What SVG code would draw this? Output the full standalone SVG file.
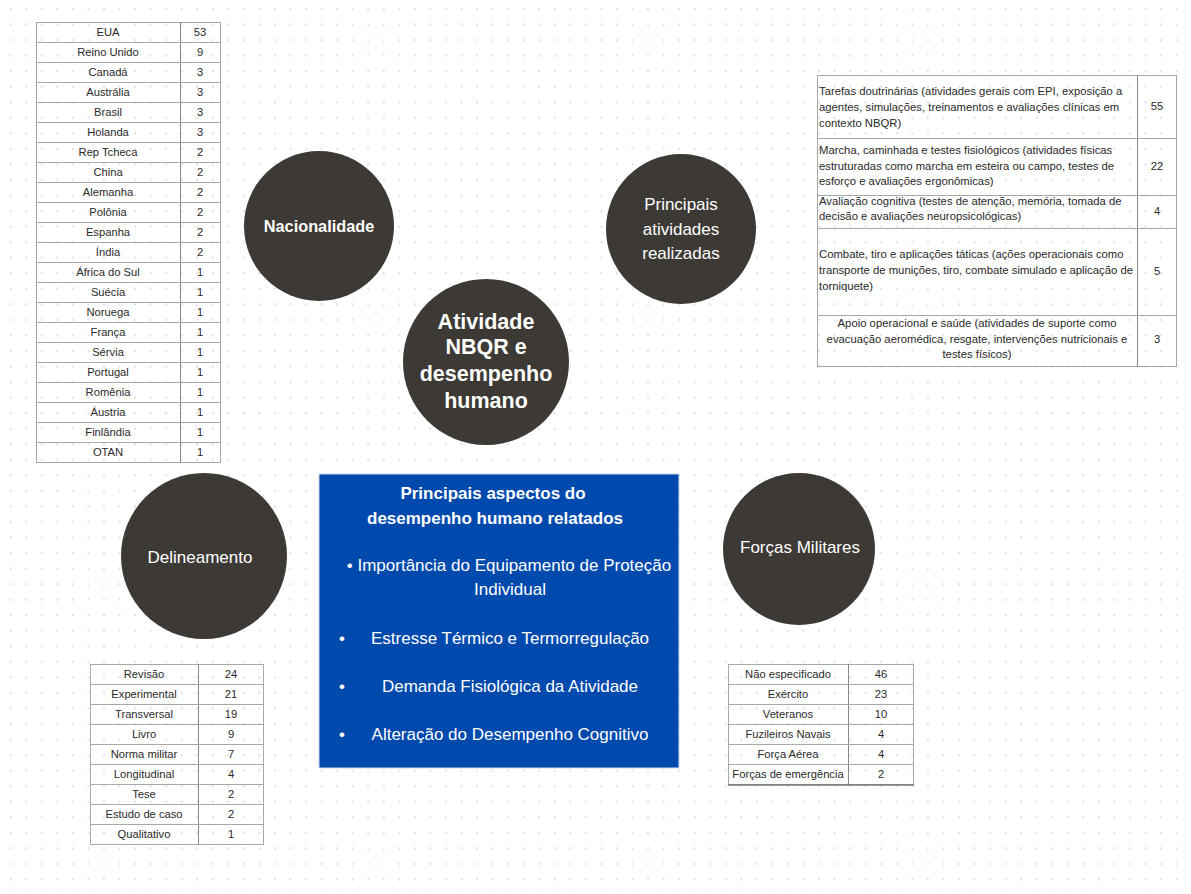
<svg xmlns="http://www.w3.org/2000/svg" width="1191" height="894" viewBox="0 0 1191 894">
<defs>
<pattern id="dots" x="0" y="0" width="15.545" height="15.545" patternUnits="userSpaceOnUse">
<rect x="9.7" y="8" width="2" height="2" fill="#dedee4"/>
</pattern>
</defs>
<style>
.bg{fill:#fff}
.circ{fill:#3d3935}
.ct{font-family:"Liberation Sans",Arial,sans-serif;fill:#fff;text-anchor:middle}
.tl{stroke:#a8a8a8;stroke-width:1;fill:none}
.tv{stroke:#8a8a8a;stroke-width:1}
.tt{font-family:"Liberation Sans",Arial,sans-serif;font-size:11.2px;fill:#2a2a2a;text-anchor:middle}
.rt{font-family:"Liberation Sans",Arial,sans-serif;font-size:11.3px;fill:#2a2a2a}
.bt{font-family:"Liberation Sans",Arial,sans-serif;fill:#fff;font-size:17px;text-anchor:middle}
</style>
<rect class="bg" width="1191" height="894"/>
<rect width="1191" height="894" fill="url(#dots)"/>
<g id="connectors"/>

<g id="tabela-nacionalidade">
<rect class="tl" x="36.5" y="22.5" width="184" height="440"/>
<line class="tv" x1="180.5" y1="22" x2="180.5" y2="463"/>
<g class="tl">
<line x1="36" y1="42.5" x2="220" y2="42.5"/><line x1="36" y1="62.5" x2="220" y2="62.5"/><line x1="36" y1="82.5" x2="220" y2="82.5"/><line x1="36" y1="102.5" x2="220" y2="102.5"/><line x1="36" y1="122.5" x2="220" y2="122.5"/><line x1="36" y1="142.5" x2="220" y2="142.5"/><line x1="36" y1="162.5" x2="220" y2="162.5"/><line x1="36" y1="182.5" x2="220" y2="182.5"/><line x1="36" y1="202.5" x2="220" y2="202.5"/><line x1="36" y1="222.5" x2="220" y2="222.5"/><line x1="36" y1="242.5" x2="220" y2="242.5"/><line x1="36" y1="262.5" x2="220" y2="262.5"/><line x1="36" y1="282.5" x2="220" y2="282.5"/><line x1="36" y1="302.5" x2="220" y2="302.5"/><line x1="36" y1="322.5" x2="220" y2="322.5"/><line x1="36" y1="342.5" x2="220" y2="342.5"/><line x1="36" y1="362.5" x2="220" y2="362.5"/><line x1="36" y1="382.5" x2="220" y2="382.5"/><line x1="36" y1="402.5" x2="220" y2="402.5"/><line x1="36" y1="422.5" x2="220" y2="422.5"/><line x1="36" y1="442.5" x2="220" y2="442.5"/>
</g>
<g class="tt">
<text x="108" y="36">EUA</text><text x="200" y="36">53</text>
<text x="108" y="56">Reino Unido</text><text x="200" y="56">9</text>
<text x="108" y="76">Canadá</text><text x="200" y="76">3</text>
<text x="108" y="96">Austrália</text><text x="200" y="96">3</text>
<text x="108" y="116">Brasil</text><text x="200" y="116">3</text>
<text x="108" y="136">Holanda</text><text x="200" y="136">3</text>
<text x="108" y="156">Rep Tcheca</text><text x="200" y="156">2</text>
<text x="108" y="176">China</text><text x="200" y="176">2</text>
<text x="108" y="196">Alemanha</text><text x="200" y="196">2</text>
<text x="108" y="216">Polônia</text><text x="200" y="216">2</text>
<text x="108" y="236">Espanha</text><text x="200" y="236">2</text>
<text x="108" y="256">Índia</text><text x="200" y="256">2</text>
<text x="108" y="276">África do Sul</text><text x="200" y="276">1</text>
<text x="108" y="296">Suécia</text><text x="200" y="296">1</text>
<text x="108" y="316">Noruega</text><text x="200" y="316">1</text>
<text x="108" y="336">França</text><text x="200" y="336">1</text>
<text x="108" y="356">Sérvia</text><text x="200" y="356">1</text>
<text x="108" y="376">Portugal</text><text x="200" y="376">1</text>
<text x="108" y="396">Romênia</text><text x="200" y="396">1</text>
<text x="108" y="416">Áustria</text><text x="200" y="416">1</text>
<text x="108" y="436">Finlândia</text><text x="200" y="436">1</text>
<text x="108" y="456">OTAN</text><text x="200" y="456">1</text>
</g>
</g>

<g id="tabela-atividades">
<rect class="tl" x="817.5" y="75.5" width="359" height="291"/>
<line class="tv" x1="1137.5" y1="75" x2="1137.5" y2="367"/>
<g class="tl">
<line x1="817" y1="138.5" x2="1177" y2="138.5"/><line x1="817" y1="195.5" x2="1177" y2="195.5"/><line x1="817" y1="228.5" x2="1177" y2="228.5"/><line x1="817" y1="315.5" x2="1177" y2="315.5"/>
</g>
<g class="rt">
<text x="819" y="95">Tarefas doutrinárias (atividades gerais com EPI, exposição a</text>
<text x="819" y="111">agentes, simulações, treinamentos e avaliações clínicas em</text>
<text x="819" y="127">contexto NBQR)</text>
<text x="819" y="154">Marcha, caminhada e testes fisiológicos (atividades físicas</text>
<text x="819" y="170">estruturadas como marcha em esteira ou campo, testes de</text>
<text x="819" y="185">esforço e avaliações ergonômicas)</text>
<text x="819" y="205">Avaliação cognitiva (testes de atenção, memória, tomada de</text>
<text x="819" y="220">decisão e avaliações neuropsicológicas)</text>
<text x="819" y="258">Combate, tiro e aplicações táticas (ações operacionais como</text>
<text x="819" y="274">transporte de munições, tiro, combate simulado e aplicação de</text>
<text x="819" y="290">torniquete)</text>
<text x="977" y="327" text-anchor="middle">Apoio operacional e saúde (atividades de suporte como</text>
<text x="977" y="343" text-anchor="middle">evacuação aeromédica, resgate, intervenções nutricionais e</text>
<text x="977" y="358" text-anchor="middle">testes físicos)</text>
</g>
<g class="tt">
<text x="1157" y="110">55</text>
<text x="1157" y="170">22</text>
<text x="1157" y="215">4</text>
<text x="1157" y="275">5</text>
<text x="1157" y="343">3</text>
</g>
</g>

<g id="tabela-delineamento">
<rect class="tl" x="90.5" y="664.5" width="173" height="180"/>
<line class="tv" x1="198.5" y1="664" x2="198.5" y2="845"/>
<g class="tl">
<line x1="90" y1="684.5" x2="264" y2="684.5"/><line x1="90" y1="704.5" x2="264" y2="704.5"/><line x1="90" y1="724.5" x2="264" y2="724.5"/><line x1="90" y1="744.5" x2="264" y2="744.5"/><line x1="90" y1="764.5" x2="264" y2="764.5"/><line x1="90" y1="784.5" x2="264" y2="784.5"/><line x1="90" y1="804.5" x2="264" y2="804.5"/><line x1="90" y1="824.5" x2="264" y2="824.5"/>
</g>
<g class="tt">
<text x="144" y="678">Revisão</text><text x="231" y="678">24</text>
<text x="144" y="698">Experimental</text><text x="231" y="698">21</text>
<text x="144" y="718">Transversal</text><text x="231" y="718">19</text>
<text x="144" y="738">Livro</text><text x="231" y="738">9</text>
<text x="144" y="758">Norma militar</text><text x="231" y="758">7</text>
<text x="144" y="778">Longitudinal</text><text x="231" y="778">4</text>
<text x="144" y="798">Tese</text><text x="231" y="798">2</text>
<text x="144" y="818">Estudo de caso</text><text x="231" y="818">2</text>
<text x="144" y="838">Qualitativo</text><text x="231" y="838">1</text>
</g>
</g>

<g id="tabela-forcas">
<rect class="tl" x="728.5" y="664.5" width="185" height="120"/>
<line class="tv" x1="848.5" y1="664" x2="848.5" y2="785"/>
<line x1="728" y1="785" x2="914" y2="785" stroke="#777" stroke-width="1.5"/>
<g class="tl">
<line x1="728" y1="684.5" x2="914" y2="684.5"/><line x1="728" y1="704.5" x2="914" y2="704.5"/><line x1="728" y1="724.5" x2="914" y2="724.5"/><line x1="728" y1="744.5" x2="914" y2="744.5"/><line x1="728" y1="764.5" x2="914" y2="764.5"/>
</g>
<g class="tt">
<text x="788" y="678">Não especificado</text><text x="881" y="678">46</text>
<text x="788" y="698">Exército</text><text x="881" y="698">23</text>
<text x="788" y="718">Veteranos</text><text x="881" y="718">10</text>
<text x="788" y="738">Fuzileiros Navais</text><text x="881" y="738">4</text>
<text x="788" y="758">Força Aérea</text><text x="881" y="758">4</text>
<text x="788" y="778">Forças de emergência</text><text x="881" y="778">2</text>
</g>
</g>

<g id="nacionalidade">
<circle class="circ" cx="319" cy="226" r="75"/>
<text class="ct" x="319" y="232" font-size="16.3" font-weight="bold">Nacionalidade</text>
</g>

<g id="atividades">
<circle class="circ" cx="681" cy="229" r="75"/>
<text class="ct" x="681" y="210" font-size="17">Principais</text>
<text class="ct" x="681" y="235" font-size="17">atividades</text>
<text class="ct" x="681" y="259" font-size="17">realizadas</text>
</g>

<g id="central">
<circle class="circ" cx="486" cy="362" r="83"/>
<g class="ct" font-size="21.5" font-weight="bold">
<text x="486" y="328.5">Atividade</text>
<text x="486" y="354">NBQR e</text>
<text x="486" y="381">desempenho</text>
<text x="486" y="408">humano</text>
</g>
</g>

<g id="delineamento">
<circle class="circ" cx="204" cy="556" r="83"/>
<text class="ct" x="200" y="563" font-size="17">Delineamento</text>
</g>

<g id="forcas">
<circle class="circ" cx="799" cy="549" r="76"/>
<text class="ct" x="800" y="553" font-size="17">Forças Militares</text>
</g>

<g id="aspectos">
<rect x="319" y="474" width="360" height="294" fill="#0049ad" stroke="#cfd8ea" stroke-width="1"/>
<text class="bt" x="493" y="499" font-weight="bold">Principais aspectos do</text>
<text class="bt" x="495" y="524" font-weight="bold">desempenho humano relatados</text>
<text class="bt" x="509" y="571">• Importância do Equipamento de Proteção</text>
<text class="bt" x="510" y="595">Individual</text>
<text class="bt" x="342" y="644">•</text>
<text class="bt" x="510" y="644">Estresse Térmico e Termorregulação</text>
<text class="bt" x="342" y="692">•</text>
<text class="bt" x="510" y="692">Demanda Fisiológica da Atividade</text>
<text class="bt" x="342" y="740">•</text>
<text class="bt" x="510" y="740">Alteração do Desempenho Cognitivo</text>
</g>
</svg>
